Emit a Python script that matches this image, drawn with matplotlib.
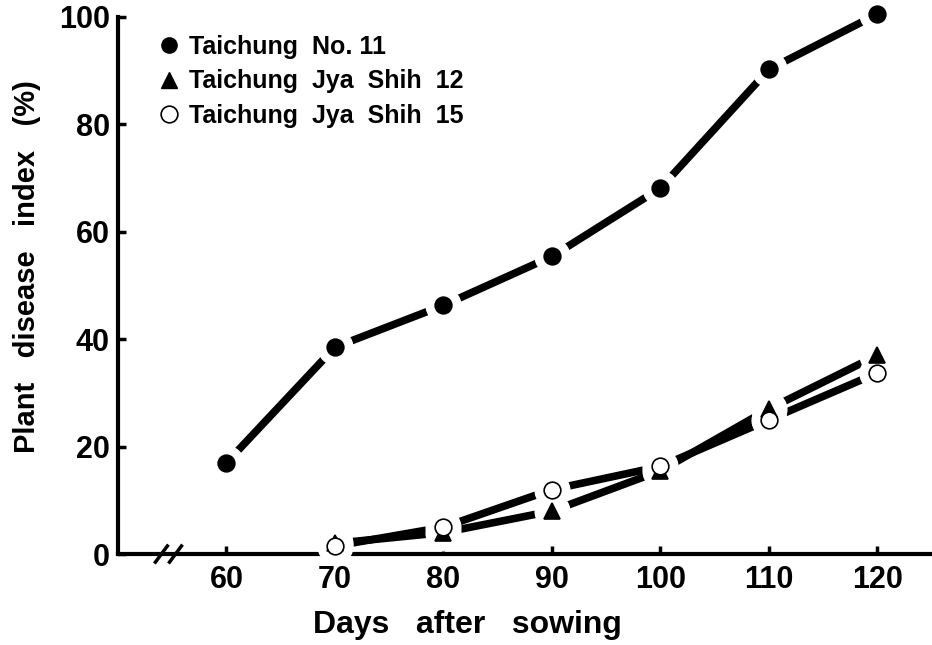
import numpy as np
import matplotlib
matplotlib.use("Agg")
from matplotlib import pyplot as plt
from matplotlib.lines import Line2D

days_no11 = [60, 70, 80, 90, 100, 110, 120]
no11 = [17, 38.5, 46.3, 55.4, 68.1, 90.2, 100.5]

days_js = [70, 80, 90, 100, 110, 120]
js12 = [2.0, 4.0, 8.0, 15.5, 27.0, 37.0]
js15 = [1.5, 5.0, 12.0, 16.3, 25.0, 33.7]

labels = ["Taichung  No. 11", "Taichung  Jya  Shih  12", "Taichung  Jya  Shih  15"]
xticks = [60, 70, 80, 90, 100, 110, 120]
yticks = [0, 20, 40, 60, 80, 100]

plt.rcParams['font.family'] = ['Liberation Sans', 'DejaVu Sans']
plt.rcParams['font.weight'] = 'bold'

fig = plt.figure(figsize=(9.32, 6.45), dpi=100)
ax = fig.add_axes([0.1266, 0.141, 0.873, 0.833])

series = [
    (days_no11, no11, 'o', 'black'),
    (days_js, js12, '^', 'black'),
    (days_js, js15, 'o', 'white'),
]

for xs, ys, m, fc in series:
    ax.plot(xs, ys, color='black', lw=5.5, solid_capstyle='round', zorder=2, clip_on=False)
# white halo so the lines stop short of the points
for xs, ys, m, fc in series:
    ax.plot(xs, ys, ls='none', marker='o', ms=25, mfc='white', mec='white', zorder=3, clip_on=False)
for xs, ys, m, fc in series:
    ax.plot(xs, ys, ls='none', marker=m, ms=12, mfc=fc, mec='black', mew=1.2, zorder=4, clip_on=False)

ax.set_xlim(50, 125)
ax.set_ylim(0, 100)
ax.set_xticks(xticks)
ax.set_yticks(yticks)
ax.tick_params(direction='in', length=6, width=2.5, labelsize=22)
ax.tick_params(axis='x', pad=8)
ax.tick_params(axis='y', pad=6)
for lab in ax.get_xticklabels() + ax.get_yticklabels():
    lab.set_fontweight('bold')
for s in ['top', 'right']:
    ax.spines[s].set_visible(False)
for s in ['left', 'bottom']:
    ax.spines[s].set_linewidth(3)

# axis break marks
for bx in [54.0, 55.3]:
    ax.plot([bx - 0.55, bx + 0.55], [-1.5, 1.5], color='black', lw=2.5, clip_on=False, zorder=5)

ax.set_xlabel("Days   after   sowing", fontsize=23, fontweight='bold')
ax.xaxis.set_label_coords(0.429, -0.105)
ax.set_ylabel("Plant   disease   index   (%)", fontsize=21, fontweight='bold')
ax.yaxis.set_label_coords(-0.095, 0.536)

handles = [
    Line2D([], [], ls='none', marker='o', ms=11, mfc='black', mec='black'),
    Line2D([], [], ls='none', marker='^', ms=11, mfc='black', mec='black'),
    Line2D([], [], ls='none', marker='o', ms=12, mfc='white', mec='black', mew=1.2),
]
leg = ax.legend(handles, labels, loc='upper left', bbox_to_anchor=(0.04, 0.985),
                frameon=False, fontsize=18, handlelength=0.7, handletextpad=0.45,
                labelspacing=0.42, borderaxespad=0)
for t in leg.get_texts():
    t.set_fontweight('bold')

fig.savefig("out.png", dpi=100)
